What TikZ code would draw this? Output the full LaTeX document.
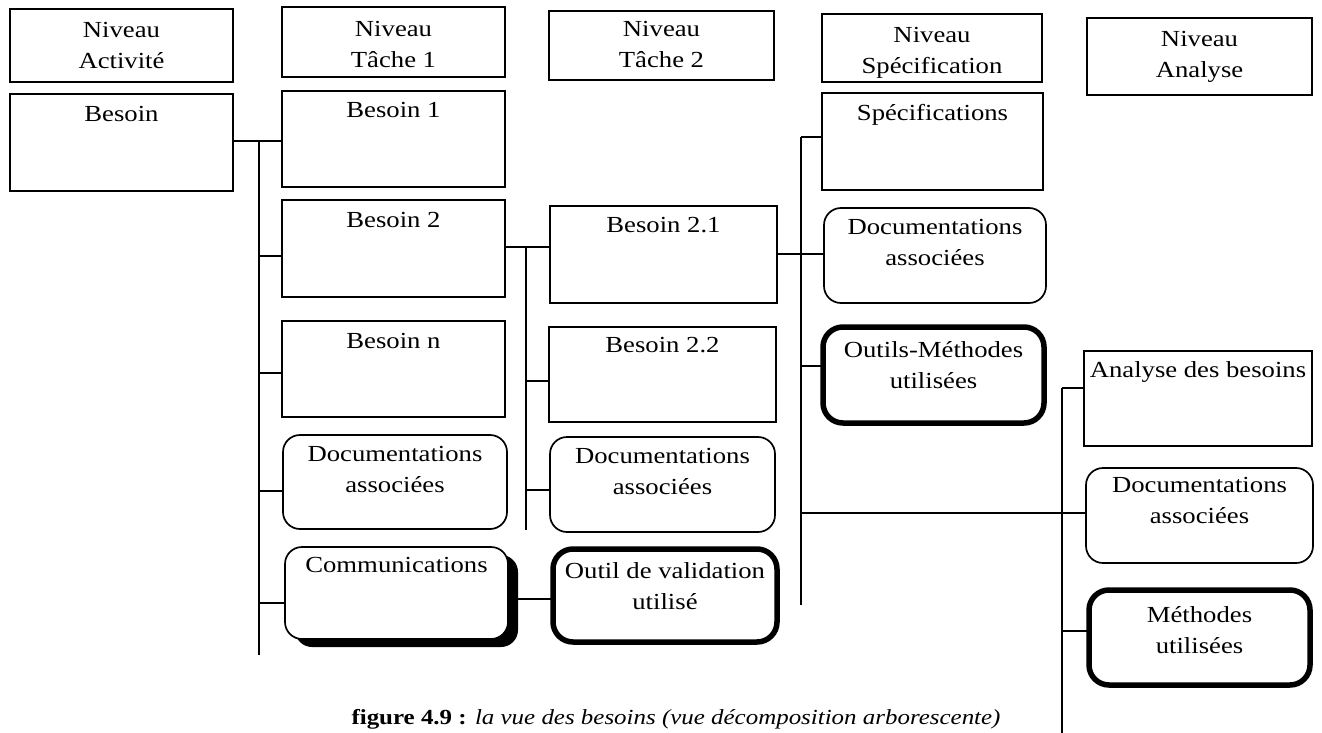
\documentclass[tikz,border=0pt]{standalone}
\usepackage{fontspec}
\setmainfont{Liberation Serif}[FakeStretch=1.16]
\usetikzlibrary{shadows}
\begin{document}
\begin{tikzpicture}[x=1pt,y=-1pt,
  every node/.style={inner sep=0pt, outer sep=0pt},
  box/.style={draw, line width=1.7pt, anchor=north west, fill=white},
  rbox/.style={box, rounded corners=17pt},
  tbox/.style={box, line width=5.5pt, rounded corners=20pt},
  lbl/.style={anchor=north, align=center, font=\fontsize{23}{31}\selectfont},
  conn/.style={line width=1.7pt}]
\useasboundingbox (0,0) rectangle (1322,733);

% header boxes
\node[box, minimum width=223pt, minimum height=73pt] (h1) at (10,9) {};
\node[box, minimum width=223pt, minimum height=70pt] (h2) at (282,7) {};
\node[box, minimum width=225pt, minimum height=69pt] (h3) at (549,11) {};
\node[box, minimum width=220pt, minimum height=68pt] (h4) at (822,14) {};
\node[box, minimum width=225pt, minimum height=77pt] (h5) at (1087,18) {};
\node[lbl] (h1t) at ([yshift=-13.5pt]h1.north) {Niveau\\Activité};
\node[lbl] (h2t) at ([yshift=-14.5pt]h2.north) {Niveau\\Tâche 1};
\node[lbl] (h3t) at ([yshift=-10.5pt]h3.north) {Niveau\\Tâche 2};
\node[lbl] (h4t) at ([yshift=-13.5pt]h4.north) {Niveau\\Spécification};
\node[lbl] (h5t) at ([yshift=-13.5pt]h5.north) {Niveau\\Analyse};

% column Activité
\node[box, minimum width=223pt, minimum height=97pt] (b0) at (10,94) {};
\node[lbl] (b0t) at ([yshift=-12.5pt]b0.north) {Besoin};

% column Tâche 1
\node[box, minimum width=223pt, minimum height=96pt] (b1) at (282,91) {};
\node[box, minimum width=223pt, minimum height=97pt] (b2) at (282,200) {};
\node[box, minimum width=223pt, minimum height=96pt] (bn) at (282,321) {};
\node[rbox, minimum width=224pt, minimum height=94pt] (d1) at (283,435) {};
\node[rbox, minimum width=223pt, minimum height=92pt,
  drop shadow={shadow xshift=10pt, shadow yshift=-8pt, opacity=1, fill=black}] (cm) at (285,547) {};
\node[lbl] (b1t) at ([yshift=-11.5pt]b1.north) {Besoin 1};
\node[lbl] (b2t) at ([yshift=-12.5pt]b2.north) {Besoin 2};
\node[lbl] (bnt) at ([yshift=-12.5pt]bn.north) {Besoin n};
\node[lbl] (d1t) at ([yshift=-11.5pt]d1.north) {Documentations\\associées};
\node[lbl] (cmt) at ([yshift=-10.5pt]cm.north) {Communications};

% column Tâche 2
\node[box, minimum width=227pt, minimum height=97pt] (b21) at (550,206) {};
\node[box, minimum width=227pt, minimum height=95pt] (b22) at (549,327) {};
\node[rbox, minimum width=225pt, minimum height=95pt] (d2) at (550,437) {};
\node[tbox, minimum width=224pt, minimum height=93pt] (ov) at (553,549) {};
\node[lbl] (b21t) at ([yshift=-11.5pt]b21.north) {Besoin 2.1};
\node[lbl] (b22t) at ([yshift=-10.5pt]b22.north) {Besoin 2.2};
\node[lbl] (d2t) at ([yshift=-11.5pt]d2.north) {Documentations\\associées};
\node[lbl] (ovt) at ([yshift=-13.5pt]ov.north) {Outil de validation\\utilisé};

% column Spécification
\node[box, minimum width=221pt, minimum height=97pt] (sp) at (822,93) {};
\node[rbox, minimum width=222pt, minimum height=95pt] (d3) at (824,208) {};
\node[tbox, minimum width=221pt, minimum height=96pt] (om) at (823,327) {};
\node[lbl] (spt) at ([yshift=-11.5pt]sp.north) {Spécifications};
\node[lbl] (d3t) at ([yshift=-11.5pt]d3.north) {Documentations\\associées};
\node[lbl] (omt) at ([yshift=-14.5pt]om.north) {Outils-Méthodes\\utilisées};

% column Analyse
\node[box, minimum width=228pt, minimum height=95pt] (ab) at (1084,351) {};
\node[rbox, minimum width=227pt, minimum height=95pt] (d4) at (1086,468) {};
\node[tbox, minimum width=221pt, minimum height=95pt] (mu) at (1089,590) {};
\node[lbl] (abt) at ([yshift=-10.5pt]ab.north) {Analyse des besoins};
\node[lbl] (d4t) at ([yshift=-9.5pt]d4.north) {Documentations\\associées};
\node[lbl] (mut) at ([yshift=-16.5pt]mu.north) {Méthodes\\utilisées};

% trunks
\coordinate (t1a) at (259,141); \coordinate (t1b) at (259,655);
\coordinate (t2a) at (526,247); \coordinate (t2b) at (526,530);
\coordinate (t3a) at (801,137); \coordinate (t3b) at (801,605);
\coordinate (t4a) at (1062,388); \coordinate (t4b) at (1062,733);
\draw[conn] (t1a) -- (t1b);
\draw[conn] (t2a) -- (t2b);
\draw[conn] (t3a) -- (t3b);
\draw[conn] (t4a) -- (t4b);

% branches
\draw[conn] (b0.east |- t1a) -- (b1.west |- t1a);
\draw[conn] (t1a |- 0,256) -- (b2.west |- 0,256);
\draw[conn] (t1a |- 0,373) -- (bn.west |- 0,373);
\draw[conn] (t1a |- 0,491) -- (d1.west |- 0,491);
\draw[conn] (t1a |- 0,603) -- (cm.west |- 0,603);

\draw[conn] (b2.east |- t2a) -- (b21.west |- t2a);
\draw[conn] (t2a |- 0,381) -- (b22.west |- 0,381);
\draw[conn] (t2a |- 0,490) -- (d2.west |- 0,490);
\draw[conn] ([xshift=10pt]cm.east |- 0,599) -- (ov.west |- 0,599);

\draw[conn] (b21.east |- 0,254) -- (d3.west |- 0,254);
\draw[conn] (t3a) -- (sp.west |- t3a);
\draw[conn] (t3a |- 0,366) -- (om.west |- 0,366);
\draw[conn] (t3a |- 0,513) -- (d4.west |- 0,513);

\draw[conn] (t4a) -- (ab.west |- t4a);
\draw[conn] (t4a |- 0,631) -- (mu.west |- 0,631);

% caption
\node[anchor=base, font=\fontsize{21.5}{26}\selectfont] (cap) at (676,724)
  {\textbf{figure 4.9 :} \textit{la vue des besoins (vue décomposition arborescente)}};
\end{tikzpicture}
\end{document}
